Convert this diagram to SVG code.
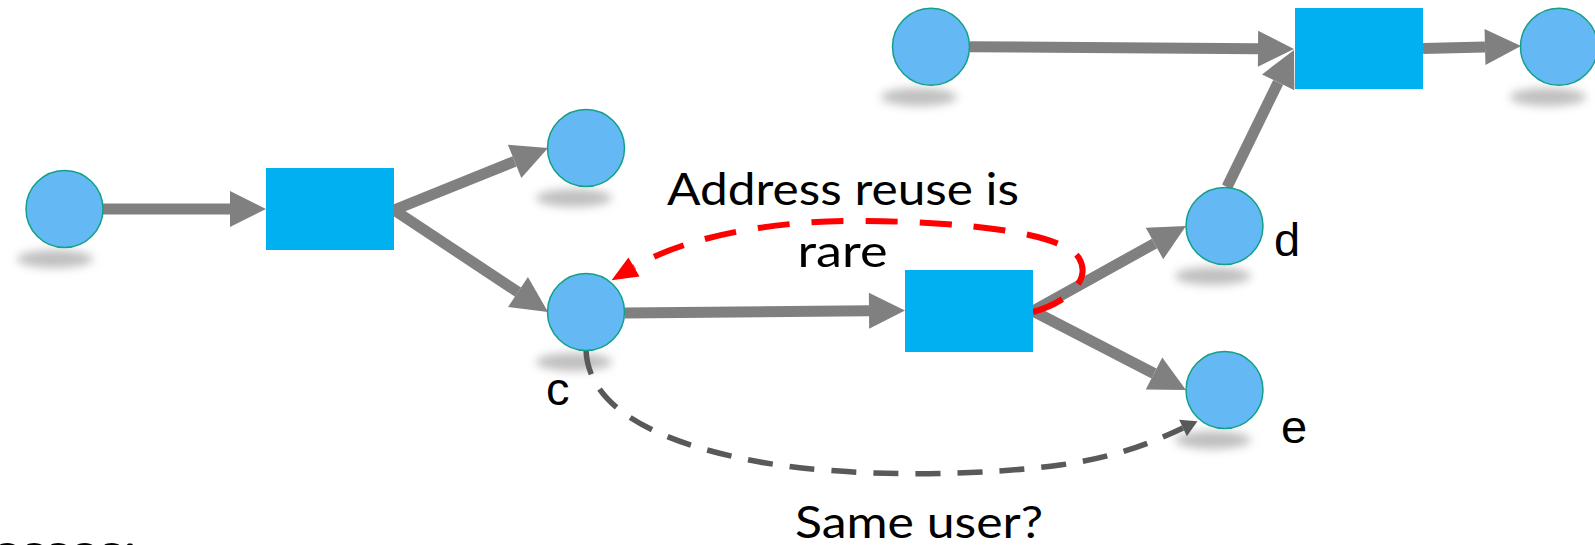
<svg xmlns="http://www.w3.org/2000/svg" width="1595" height="545" viewBox="0 0 1595 545">
<style>
.node-c{fill:#64B9F4;stroke:#12A089;stroke-width:1.5}
.node-r{fill:#00B0F0}
.shadow{fill:#b4b4b4;opacity:0.85;filter:url(#blur)}
.flow{stroke:#808080;stroke-width:11;fill:none;marker-end:url(#ah)}
.reuse{stroke:#FF0000;stroke-width:6;fill:none;stroke-dasharray:32 22;marker-end:url(#ahr)}
.same{stroke:#595959;stroke-width:5.5;fill:none;stroke-dasharray:25 17;marker-end:url(#ahg)}
.cal{font-family:Lato,"Open Sans",sans-serif;font-size:45px;fill:#000}
.lab{font-family:"Liberation Sans",Arial,sans-serif;font-size:47px;fill:#000}
</style>
<defs>
<filter id="blur" x="-50%" y="-150%" width="200%" height="400%"><feGaussianBlur stdDeviation="5"/></filter>
<marker id="ah" markerUnits="userSpaceOnUse" markerWidth="37" markerHeight="37" refX="0" refY="18" orient="auto" overflow="visible"><path d="M0,0 L36,18 L0,36 Z" fill="#808080"/></marker>
<marker id="ahr" markerUnits="userSpaceOnUse" markerWidth="27" markerHeight="23" refX="0" refY="11" orient="auto" overflow="visible"><path d="M0,0 L26,11 L0,22 Z" fill="#FF0000"/></marker>
<marker id="ahg" markerUnits="userSpaceOnUse" markerWidth="17" markerHeight="19" refX="0" refY="9" orient="auto" overflow="visible"><path d="M0,0 L16,9 L0,18 Z" fill="#595959"/></marker>
</defs>
<rect width="1595" height="545" fill="#fff"/>

<g id="shadows">
<ellipse class="shadow" cx="55" cy="259" rx="38" ry="9"/>
<ellipse class="shadow" cx="574" cy="198" rx="38" ry="9"/>
<ellipse class="shadow" cx="574" cy="362" rx="38" ry="9"/>
<ellipse class="shadow" cx="1213" cy="276" rx="38" ry="9"/>
<ellipse class="shadow" cx="1213" cy="440" rx="38" ry="9"/>
<ellipse class="shadow" cx="919" cy="97" rx="38" ry="9"/>
<ellipse class="shadow" cx="1548" cy="97" rx="38" ry="9"/>
</g>

<g id="connectors">
<path class="flow" d="M103,209 L230,209"/>
<path class="flow" d="M394,210 L514.6,161.4"/>
<path class="flow" d="M394,210 L518,292.1"/>
<path class="flow" d="M624.5,313 L869,310.8"/>
<path class="flow" d="M1033,311 L1154.5,243.5"/>
<path class="flow" d="M1033,311 L1154,373.5"/>
<path class="flow" d="M1227,187 L1278.2,82.3"/>
<path class="flow" d="M969.5,46.7 L1258,48.7"/>
<path class="flow" d="M1423,48.5 L1485,46.9"/>
<path class="reuse" d="M1033,312 C1068,302 1092,280 1079,258 C1062,232 960,221 855,221 C760,221 680,240 634,267"/>
<path class="same" d="M586,350 C588,400 640,440 760,462 C850,478 980,476 1060,465 C1110,458 1145,446 1183,428"/>
</g>

<g id="n-a"><circle class="node-c" cx="64.5" cy="209" r="38.5"/></g>
<g id="n-r1"><rect class="node-r" x="266" y="168" width="128" height="82"/></g>
<g id="n-b"><circle class="node-c" cx="586" cy="148" r="38.5"/></g>
<g id="n-c"><circle class="node-c" cx="586" cy="312" r="38.5"/><text class="lab" x="546" y="405">c</text></g>
<g id="n-r2"><rect class="node-r" x="905" y="270" width="128" height="82"/></g>
<g id="n-d"><circle class="node-c" cx="1224.5" cy="226" r="38.5"/><text class="lab" x="1274" y="256">d</text></g>
<g id="n-e"><circle class="node-c" cx="1224.5" cy="390" r="38.5"/><text class="lab" x="1281" y="443">e</text></g>
<g id="n-f"><circle class="node-c" cx="931" cy="46.7" r="38.5"/></g>
<g id="n-r3"><rect class="node-r" x="1295" y="8" width="128" height="81"/></g>
<g id="n-g"><circle class="node-c" cx="1559" cy="46.7" r="38.5"/></g>

<g id="labels">
<text class="cal" x="843" y="205" text-anchor="middle" textLength="352" lengthAdjust="spacingAndGlyphs">Address reuse is</text>
<text class="cal" x="842.5" y="267" text-anchor="middle" textLength="90" lengthAdjust="spacingAndGlyphs">rare</text>
<text class="cal" x="919" y="538" text-anchor="middle" textLength="248" lengthAdjust="spacingAndGlyphs">Same user?</text>
<text class="cal" x="-8" y="566" textLength="145" lengthAdjust="spacingAndGlyphs">esses:</text>
</g>
</svg>
